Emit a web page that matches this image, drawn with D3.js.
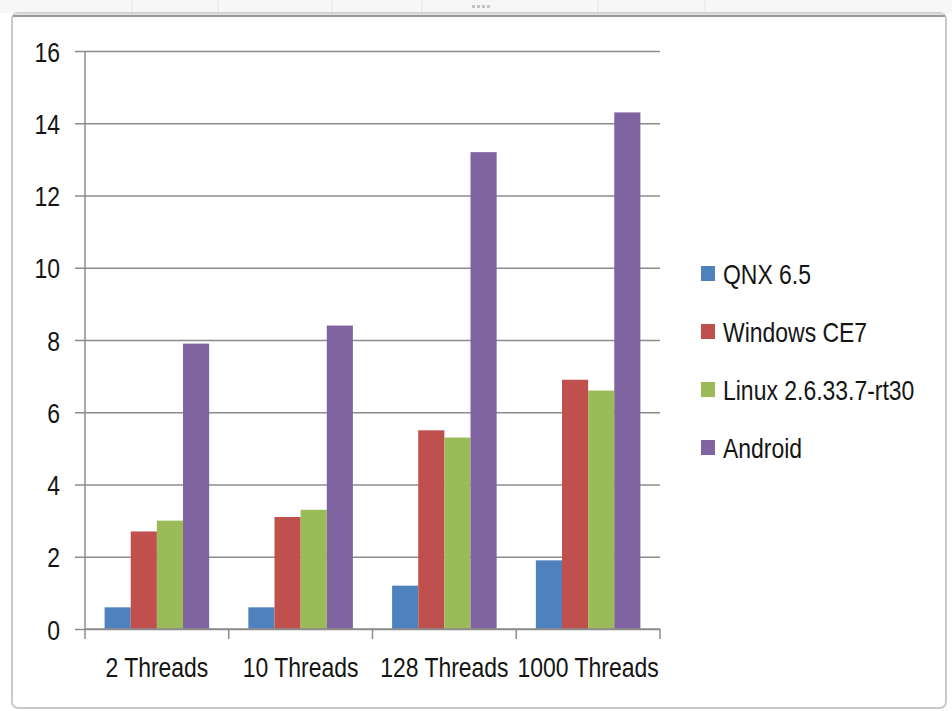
<!DOCTYPE html>
<html>
<head>
<meta charset="utf-8">
<script src="https://cdn.jsdelivr.net/npm/d3@7"></script>
<style>
  body { margin: 0; background: #fff; }
  svg { display: block; }
  .axisText { font-family: "Liberation Sans", Arial, sans-serif; font-size: 28px; fill: #151515; }
</style>
</head>
<body>
<svg id="chart"></svg>
<script>
// data
const categories = ['2 Threads', '10 Threads', '128 Threads', '1000 Threads']
const seriesNames = ['QNX 6.5', 'Windows CE7', 'Linux 2.6.33.7-rt30', 'Android']
const qnx = [0.6, 0.6, 1.2, 1.9]
const winCE = [2.7, 3.1, 5.5, 6.9]
const linux = [3.0, 3.3, 5.3, 6.6]
const android = [7.9, 8.4, 13.2, 14.3]
const yTicks = [0, 2, 4, 6, 8, 10, 12, 14, 16]
const colors = ['#4f81bd', '#c0504d', '#9bbb59', '#8064a2']

const allSeries = [qnx, winCE, linux, android]

//page size
const W = 952
const H = 711
const margin = { top: 51, left: 85, right: 292, bottom: 82 }
const width = W - margin.left - margin.right
const height = H - margin.top - margin.bottom

//squeeze text horizontally, like the narrow office font
const narrowText = (sel, x, y) => {
  sel.attr('transform', `translate(${x},${y}) scale(0.82,1)`)
     .attr('x', 0).attr('y', 0)
}

const svg = d3.select('#chart')
    .attr('width', W)
    .attr('height', H)

//spreadsheet frame around the chart
const frame = svg.append('g')
frame.append('rect')
    .attr('x', 0).attr('y', 0).attr('width', W).attr('height', 13)
    .attr('fill', '#f7f7f7')
;[132, 218, 332, 422, 598, 705].forEach(x => {
  frame.append('line')
      .attr('x1', x).attr('x2', x).attr('y1', 0).attr('y2', 13)
      .attr('stroke', '#e2e2e2')
})
frame.append('rect')
    .attr('x', 12).attr('y', 13).attr('width', 934).attr('height', 695)
    .attr('rx', 6)
    .attr('fill', '#fff')
    .attr('stroke', '#c9c9c9')
    .attr('stroke-width', 2)
frame.append('line')
    .attr('x1', 13).attr('x2', 945).attr('y1', 16).attr('y2', 16)
    .attr('stroke', '#9a9a9a')
    .attr('stroke-width', 2)
frame.append('line')
    .attr('x1', 13).attr('x2', 945).attr('y1', 14).attr('y2', 14)
    .attr('stroke', '#dcdcdc')
    .attr('stroke-width', 2)
//grip dots
;[0, 1, 2, 3].forEach(i => {
  frame.append('rect')
      .attr('x', 472 + i * 5).attr('y', 5).attr('width', 3).attr('height', 3)
      .attr('fill', '#c4c4c4')
})

const chartArea = svg.append('g')
    .attr('transform', `translate(${margin.left},${margin.top})`)

//scales
const xScale = d3.scaleBand()
    .domain(categories)
    .range([0, width])

const barGap = 1.5
const xInner = d3.scaleBand()
    .domain(d3.range(seriesNames.length))
    .range([0, xScale.bandwidth()])
    .paddingOuter(barGap / 2)
    .paddingInner(0)

const yScale = d3.scaleLinear()
    .domain([0, 16])
    .range([height, 0])

//gridlines + y axis
const yAxis = d3.axisLeft(yScale)
    .tickValues(yTicks)
    .tickSize(-width)
    .tickFormat(d => d)

const yAxisGroup = chartArea.append('g').call(yAxis)
yAxisGroup.select('.domain').remove()
yAxisGroup.selectAll('.tick line')
    .attr('x1', -10)
    .attr('stroke', '#8c8c8c')
    .attr('stroke-width', 1.5)
yAxisGroup.selectAll('.tick text')
    .attr('class', 'axisText')
    .attr('dy', '0.36em')
    .each(function() { narrowText(d3.select(this), -25, 0) })

chartArea.append('line')
    .attr('x1', 0).attr('x2', 0).attr('y1', 0).attr('y2', height)
    .attr('stroke', '#8c8c8c')
    .attr('stroke-width', 1.5)

//bars
const groups = chartArea.selectAll('g.cat')
    .data(categories)
    .enter()
    .append('g')
    .attr('class', 'cat')
    .attr('transform', d => `translate(${xScale(d)},0)`)

groups.selectAll('rect')
    .data((d, i) => allSeries.map((s, j) => ({ s: j, v: s[i] })))
    .enter()
    .append('rect')
    .attr('x', d => xInner(d.s))
    .attr('width', xInner.bandwidth())
    .attr('y', d => yScale(d.v))
    .attr('height', d => height - yScale(d.v))
    .attr('fill', d => colors[d.s])

//x axis
const xAxisGroup = chartArea.append('g')
    .attr('transform', `translate(0,${height})`)

xAxisGroup.append('line')
    .attr('x1', 0).attr('x2', width)
    .attr('stroke', '#8c8c8c')
    .attr('stroke-width', 1.5)

const edges = categories.map(c => xScale(c)).concat([width])
xAxisGroup.selectAll('line.tick')
    .data(edges)
    .enter()
    .append('line')
    .attr('class', 'tick')
    .attr('x1', d => d).attr('x2', d => d)
    .attr('y1', 0).attr('y2', 10)
    .attr('stroke', '#8c8c8c')
    .attr('stroke-width', 1.5)

xAxisGroup.selectAll('text')
    .data(categories)
    .enter()
    .append('text')
    .attr('class', 'axisText')
    .attr('text-anchor', 'middle')
    .text(d => d)
    .each(function(d) { narrowText(d3.select(this), xScale(d) + xScale.bandwidth() / 2, 48) })

//legend
const legend = svg.append('g')
    .attr('transform', 'translate(701,274)')

const rows = legend.selectAll('g')
    .data(seriesNames)
    .enter()
    .append('g')
    .attr('transform', (d, i) => `translate(0,${i * 58})`)

rows.append('rect')
    .attr('x', 0).attr('y', -8)
    .attr('width', 14).attr('height', 15)
    .attr('fill', (d, i) => colors[i])

rows.append('text')
    .attr('class', 'axisText')
    .attr('dy', '0.36em')
    .text(d => d)
    .each(function() { narrowText(d3.select(this), 22, 0) })
</script>
</body>
</html>
